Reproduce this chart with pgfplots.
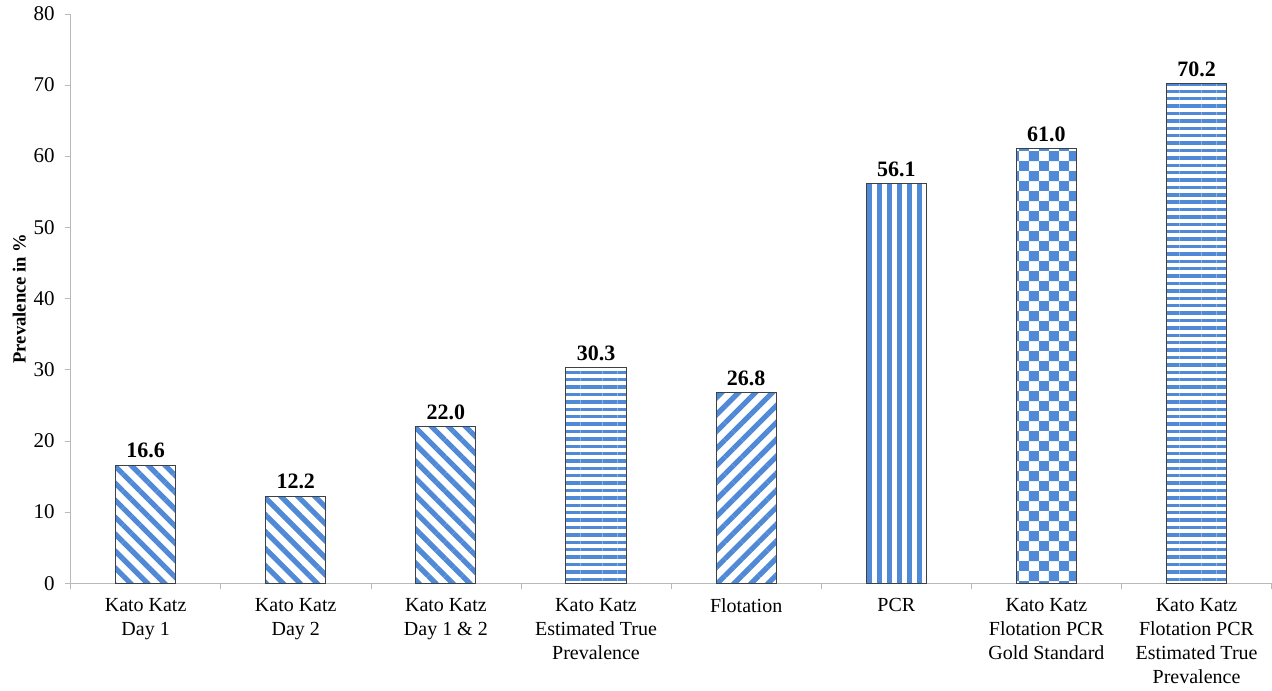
\documentclass[border=0pt]{standalone}
\usepackage{pgfplots}
\pgfplotsset{compat=1.18}
\usepackage{fontspec}
\setmainfont{Liberation Serif}
\usetikzlibrary{patterns,patterns.meta}
\definecolor{barblue}{RGB}{80,138,214}
\definecolor{axgray}{RGB}{185,185,185}
\pgfdeclarepatternformonly{bigcheck}{\pgfpointorigin}{\pgfqpoint{10pt}{10pt}}{\pgfqpoint{10pt}{10pt}}{%
  \pgfpathrectangle{\pgfpointorigin}{\pgfqpoint{5pt}{5pt}}%
  \pgfpathrectangle{\pgfqpoint{5pt}{5pt}}{\pgfqpoint{5pt}{5pt}}%
  \pgfusepath{fill}}
\begin{document}
\begin{tikzpicture}
\begin{axis}[
  scale only axis,
  width=601pt, height=285pt,
  xmin=-0.5, xmax=7.5,
  ymin=0, ymax=80,
  ytick={0,10,...,80},
  xtick={0,...,7},
  xticklabels={{Kato Katz\\Day 1},{Kato Katz\\Day 2},{Kato Katz\\Day 1 \& 2},{Kato Katz\\Estimated True\\Prevalence},{Flotation},{PCR},{Kato Katz\\Flotation PCR\\Gold Standard},{Kato Katz\\Flotation PCR\\Estimated True\\Prevalence}},
  xticklabel style={align=center, font=\fontsize{10}{12}\selectfont, yshift=-1pt},
  yticklabel style={font=\fontsize{10.5}{12}\selectfont, xshift=-1.5pt},
  major x tick style={draw=none},
  minor xtick={-0.5,0.5,...,7.5},
  minor x tick style={axgray},
  minor tick length=3pt,
  major tick length=3pt,
  tick align=outside,
  axis x line*=bottom,
  axis y line*=left,
  axis line style={axgray, -},
  y tick style={axgray},
  ylabel={\textbf{Prevalence in \%}},
  ylabel style={font=\fontsize{9.3}{11}\selectfont, yshift=-3pt},
  /pgf/number format/assume math mode=true,
  ybar, bar width=0.4, bar shift=0pt,
  nodes near coords,
  nodes near coords style={font=\bfseries\fontsize{11}{13}\selectfont, /pgf/number format/.cd, fixed, fixed zerofill, precision=1, assume math mode=true},
  every axis plot/.append style={draw=black!75, line width=0.5pt},
  clip=false,
]
\addplot[pattern={Lines[angle=-45, distance=6pt, line width=2.6pt]}, pattern color=barblue] coordinates {(0,16.6)};
\addplot[pattern={Lines[angle=-45, distance=6pt, line width=2.6pt]}, pattern color=barblue] coordinates {(1,12.2)};
\addplot[pattern={Lines[angle=-45, distance=6pt, line width=2.6pt]}, pattern color=barblue] coordinates {(2,22.0)};
\addplot[pattern={Lines[angle=0, distance=3.7pt, line width=1.7pt]}, pattern color=barblue] coordinates {(3,30.3)};
\addplot[pattern={Lines[angle=45, distance=6pt, line width=2.6pt]}, pattern color=barblue] coordinates {(4,26.8)};
\addplot[pattern={Lines[angle=90, distance=5pt, line width=2.3pt]}, pattern color=barblue] coordinates {(5,56.1)};
\addplot[pattern=bigcheck, pattern color=barblue] coordinates {(6,61.0)};
\addplot[pattern={Lines[angle=0, distance=3.7pt, line width=1.7pt]}, pattern color=barblue] coordinates {(7,70.2)};
\end{axis}
\path ([xshift=-3pt]current bounding box.west);
\end{tikzpicture}
\end{document}
